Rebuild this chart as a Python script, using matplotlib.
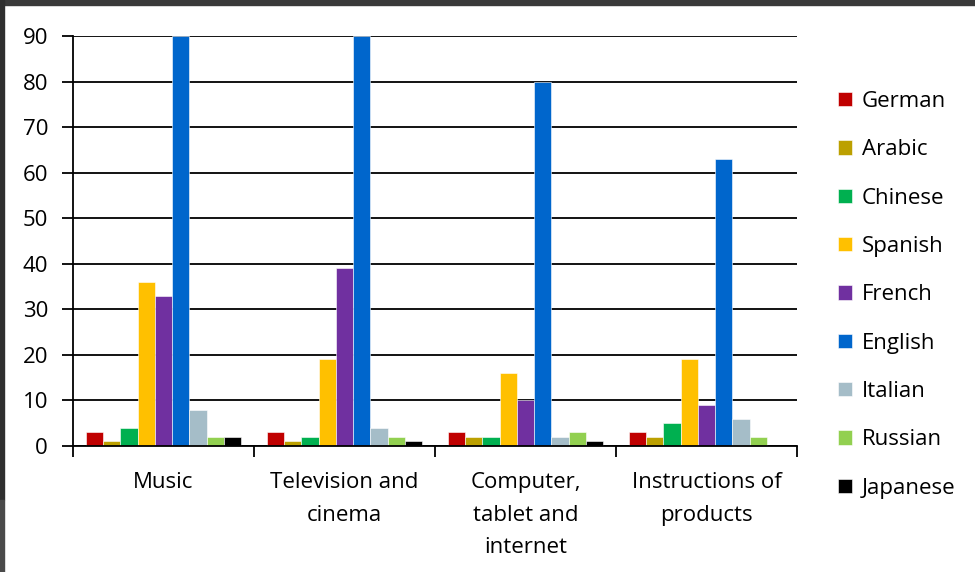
import matplotlib
matplotlib.use("Agg")
import matplotlib.pyplot as plt
import numpy as np
from matplotlib.patches import Rectangle

categories = ["Music", "Television and\ncinema", "Computer,\ntablet and\ninternet", "Instructions of\nproducts"]
languages = ["German", "Arabic", "Chinese", "Spanish", "French", "English", "Italian", "Russian", "Japanese"]
german = [3, 3, 3, 3]
arabic = [1, 1, 2, 2]
chinese = [4, 2, 2, 5]
spanish = [36, 19, 16, 19]
french = [33, 39, 10, 9]
english = [90, 90, 80, 63]
italian = [8, 4, 2, 6]
russian = [2, 2, 3, 2]
japanese = [2, 1, 1, 0]
series = [german, arabic, chinese, spanish, french, english, italian, russian, japanese]
colors = ["#C00000", "#BCA000", "#00B050", "#FFC000", "#7030A0", "#0066CC", "#A5BDC8", "#92D050", "#000000"]
yticks = [0, 10, 20, 30, 40, 50, 60, 70, 80, 90]

plt.rcParams['font.family'] = ['Open Sans', 'DejaVu Sans']

W, H = 975, 572
fig = plt.figure(figsize=(W/100, H/100), dpi=100)
ax = fig.add_axes([73/W, 1-446/H, (797-73)/W, (446-36)/H])

n = len(series)
group_w = 10.5
bw = 1.0 / group_w
x = np.arange(len(categories))
for i, (vals, c, name) in enumerate(zip(series, colors, languages)):
    offs = (i - (n-1)/2) * bw
    ax.bar(x + offs, vals, width=bw, color=c, label=name, zorder=3,
           edgecolor="white", linewidth=0.4)

FS = 16
ax.set_xlim(-0.5, len(categories)-0.5)
ax.set_ylim(0, 90)
ax.set_yticks(yticks)
ax.set_yticklabels([str(v) for v in yticks], fontsize=FS)
ax.yaxis.grid(True, color="black", linewidth=1.3, zorder=1)
ax.set_axisbelow(True)
ax.tick_params(axis='y', length=8, width=1.3, color="black", pad=10)

ax.set_xticks(x)
ax.set_xticklabels(categories, fontsize=FS, linespacing=1.7, va='top')
ax.set_xticks(np.arange(len(categories)+1) - 0.5, minor=True)
ax.tick_params(axis='x', which='major', length=0, pad=19)
ax.tick_params(axis='x', which='minor', length=8, width=1.3, color="black")

for s in ["top", "right"]:
    ax.spines[s].set_visible(False)
for s in ["left", "bottom"]:
    ax.spines[s].set_color("black")
    ax.spines[s].set_linewidth(1.3)
ax.spines["left"].set_zorder(4)
ax.spines["bottom"].set_zorder(4)

leg = fig.legend(loc="upper left", bbox_to_anchor=(829/W, 1-82/H), frameon=False,
                 fontsize=FS, handlelength=0.62, handleheight=0.62,
                 handletextpad=0.45, labelspacing=1.23, borderaxespad=0)

# screenshot frame
fig.patches.append(Rectangle((0, 1-5/H), 1, 5/H, transform=fig.transFigure,
                             color="#3a3a3a", zorder=10))
fig.patches.append(Rectangle((0, 1-500/H), 4/W, 500/H, transform=fig.transFigure,
                             color="#2f2f2f", zorder=10))
fig.patches.append(Rectangle((0, 0), 4/W, 72/H, transform=fig.transFigure,
                             color="#4a4a4a", zorder=10))

fig.savefig("out.png", dpi=100)
